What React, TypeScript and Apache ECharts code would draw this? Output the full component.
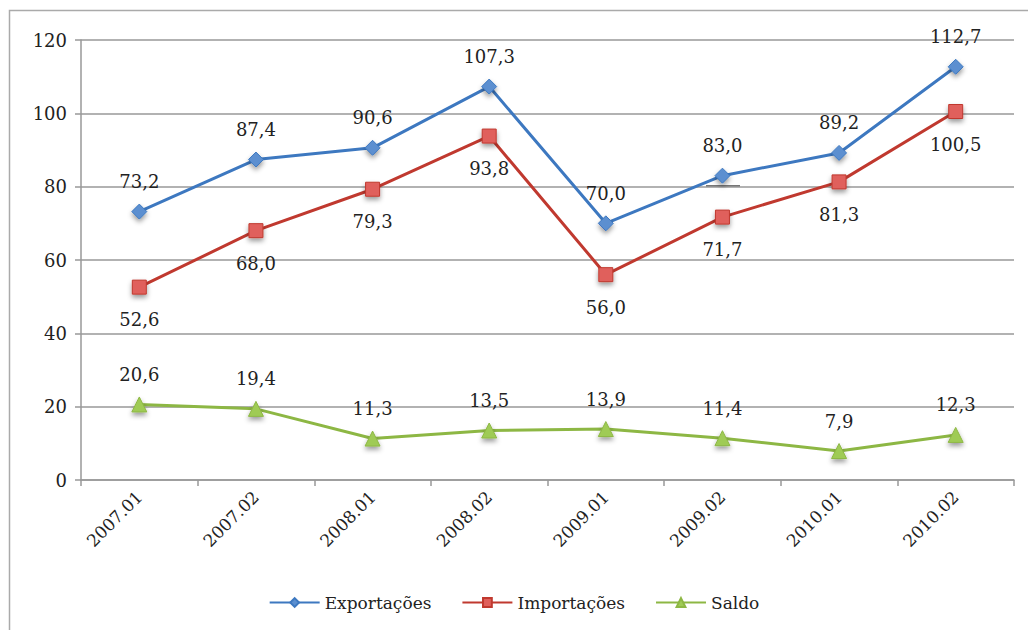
import React, { useEffect, useRef } from "react";
import * as echarts from "echarts";

const categories = ["2007.01", "2007.02", "2008.01", "2008.02", "2009.01", "2009.02", "2010.01", "2010.02"];
const exportacoes = [73.2, 87.4, 90.6, 107.3, 70.0, 83.0, 89.2, 112.7];
const importacoes = [52.6, 68.0, 79.3, 93.8, 56.0, 71.7, 81.3, 100.5];
const saldo = [20.6, 19.4, 11.3, 13.5, 13.9, 11.4, 7.9, 12.3];

const FONT = "DejaVu Serif";
const fmt = (v: number) => v.toFixed(1).replace(".", ",");

const shadow = {
  shadowBlur: 5,
  shadowColor: "rgba(0,0,0,0.4)",
  shadowOffsetY: 3,
};

export default function App() {
  const ref = useRef<HTMLDivElement>(null);

  useEffect(() => {
    if (!ref.current) return;
    const chart = echarts.init(ref.current, undefined, { renderer: "svg" });

    const series = (
      name: string,
      data: number[],
      color: string,
      fill: string,
      symbol: string,
      size: number,
      pos: "top" | "bottom",
      dist: number
    ) => ({
      name,
      type: "line",
      data,
      symbol,
      symbolSize: size,
      lineStyle: { color, width: 3 },
      itemStyle: { color: fill, borderColor: color, borderWidth: 1, ...shadow },
      label: {
        show: true,
        position: pos,
        distance: dist,
        formatter: (p: any) => fmt(p.value),
        fontFamily: FONT,
        fontSize: 18,
        color: "#222",
      },
      z: 3,
    });

    chart.setOption({
      animation: false,
      backgroundColor: "#fff",
      textStyle: { fontFamily: FONT },
      grid: { left: 81, right: 14, top: 40, bottom: 150 },
      xAxis: {
        type: "category",
        data: categories,
        boundaryGap: true,
        axisLine: { lineStyle: { color: "#999", width: 1.5 } },
        axisTick: { show: true, length: 6, lineStyle: { color: "#999", width: 1.5 } },
        axisLabel: {
          rotate: 45,
          fontFamily: FONT,
          fontSize: 17,
          color: "#222",
          margin: 14,
        },
      },
      yAxis: {
        type: "value",
        min: 0,
        max: 120,
        interval: 20,
        axisLine: { show: true, lineStyle: { color: "#999", width: 1.5 } },
        axisTick: { show: true, length: 6, lineStyle: { color: "#999", width: 1.5 } },
        splitLine: { lineStyle: { color: "#999", width: 1.5 } },
        axisLabel: { fontFamily: FONT, fontSize: 18, color: "#222", margin: 14 },
      },
      legend: {
        bottom: 14,
        left: "center",
        itemWidth: 50,
        itemHeight: 11,
        itemGap: 30,
        textStyle: { fontFamily: FONT, fontSize: 17, color: "#222" },
        data: ["Exportações", "Importações", "Saldo"],
      },
      graphic: [
        {
          type: "rect",
          shape: { x: 9.5, y: 10.5, width: 1040, height: 640 },
          style: { fill: "none", stroke: "#aaa", lineWidth: 1.5 },
          silent: true,
        },
        {
          type: "line",
          shape: { x1: 706, y1: 186, x2: 740, y2: 186 },
          style: { stroke: "#777", lineWidth: 2 },
          silent: true,
        },
      ],
      series: [
        series("Exportações", exportacoes, "#3d78c0", "#5b8fd0", "diamond", 15, "top", 13),
        series("Importações", importacoes, "#c0392f", "#e0605c", "rect", 14, "bottom", 16),
        series("Saldo", saldo, "#8db744", "#9fcb55", "triangle", 15, "top", 13),
      ],
    });

    return () => chart.dispose();
  }, []);

  return <div ref={ref} style={{ width: 1028, height: 630, position: "absolute", left: 0, top: 0 }} />;
}
